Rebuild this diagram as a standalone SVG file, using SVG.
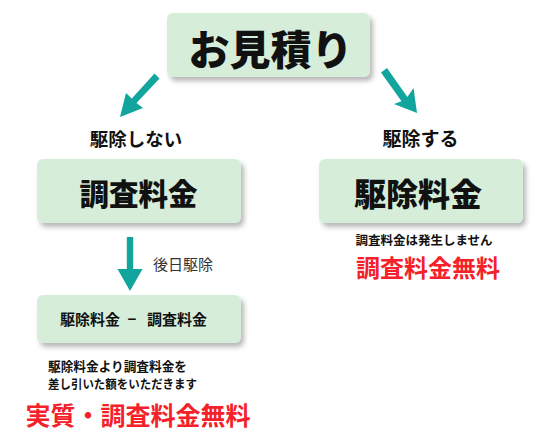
<svg xmlns="http://www.w3.org/2000/svg" width="554" height="442" viewBox="0 0 554 442">
<defs>
<filter id="sh" x="-10%" y="-20%" width="125%" height="150%">
<feDropShadow dx="3" dy="4" stdDeviation="2.5" flood-color="#000" flood-opacity="0.28"/>
</filter>
<style>
.box{fill:#d6eed9;filter:url(#sh)}
.t{font-family:"Noto Sans CJK JP","Noto Sans",sans-serif;font-weight:bold;fill:#111;text-anchor:middle}
.big{font-weight:900}
.red{fill:#f5212a}
.arr{fill:#12a59e}
.n{font-family:"Noto Sans CJK JP","Noto Sans",sans-serif;font-weight:normal;fill:#333}
</style>
</defs>
<rect width="554" height="442" fill="#fff"/>
<g id="connectors">
<g id="arrow-left">
<polygon class="arr" points="154.5,73.5 159.5,78.5 136.5,103.1 143,108 120,117 126,93 131.8,98.5"/>
</g>
<g id="arrow-right">
<polygon class="arr" points="381,72.5 387,68 407.4,97 413.5,88 417,113 394,104 401.5,101.2"/>
</g>
<g id="arrow-down">
<polygon class="arr" points="126.8,237 133.2,237 133.2,269 142.5,269 130,291 117.5,269 126.8,269"/>
</g>
<text class="n" x="153" y="269.5" font-size="15">後日駆除</text>
</g>
<g id="node-estimate">
<rect class="box" x="167" y="13" width="203" height="64" rx="6"/>
<text class="t big" x="270.5" y="65" font-size="41">お見積り</text>
</g>
<g id="label-no">
<text class="t" x="136" y="146" font-size="18.5">駆除しない</text>
</g>
<g id="label-yes">
<text class="t" x="420.5" y="146" font-size="19">駆除する</text>
</g>
<g id="node-survey">
<rect class="box" x="37" y="159" width="204" height="64" rx="6"/>
<text class="t big" x="138.5" y="205" font-size="29.5">調査料金</text>
</g>
<g id="node-extermination">
<rect class="box" x="319" y="159" width="204" height="64" rx="6"/>
<text class="t big" x="418" y="206" font-size="32">駆除料金</text>
</g>
<g id="note-right">
<text class="t" x="424" y="244.5" font-size="12.5">調査料金は発生しません</text>
<text class="t red" x="428" y="277" font-size="24">調査料金無料</text>
</g>
<g id="node-diff">
<rect class="box" x="37" y="295" width="204" height="48" rx="6"/>
<text class="t" font-size="15" style="text-anchor:start"><tspan x="60" y="325">駆除料金</tspan><tspan x="127.5" y="325">−</tspan><tspan x="147" y="325">調査料金</tspan></text>
</g>
<g id="note-left">
<text class="t" x="48" y="371" font-size="13" style="text-anchor:start" textLength="139" lengthAdjust="spacingAndGlyphs">駆除料金より調査料金を</text>
<text class="t" x="48" y="389" font-size="12.5" style="text-anchor:start" textLength="149" lengthAdjust="spacingAndGlyphs">差し引いた額をいただきます</text>
<text class="t red" x="138" y="425" font-size="25">実質・調査料金無料</text>
</g>
</svg>
